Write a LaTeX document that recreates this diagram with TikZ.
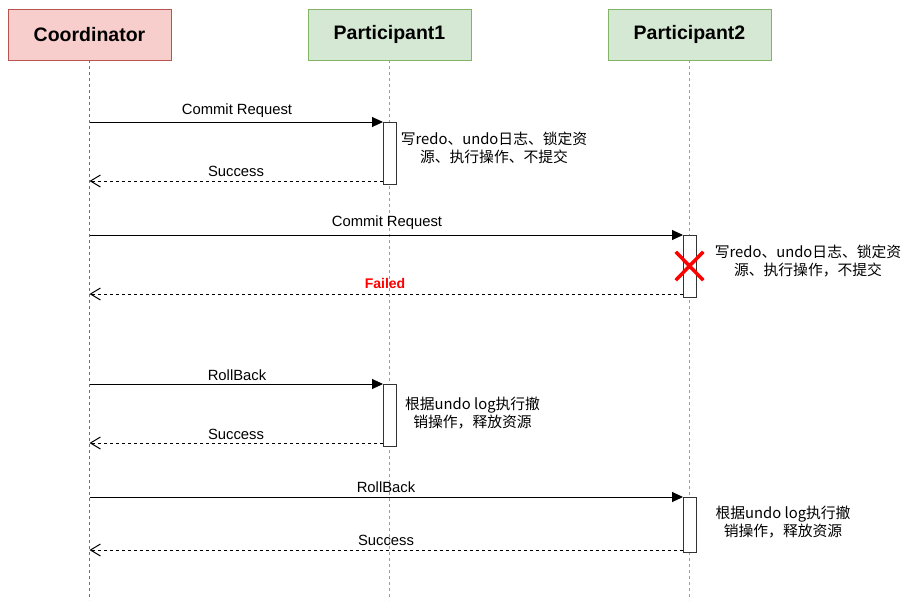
\documentclass[tikz,border=0pt]{standalone}
\usepackage{fontspec}
\setmainfont{Liberation Sans}
\newfontfamily\cjk{Noto Sans CJK SC}
\usetikzlibrary{arrows.meta,shapes.misc}
\definecolor{redfill}{HTML}{F8CECC}
\definecolor{reddraw}{HTML}{B85450}
\definecolor{greenfill}{HTML}{D5E8D4}
\definecolor{greendraw}{HTML}{82B366}
\definecolor{actdraw}{HTML}{333333}
\definecolor{failred}{HTML}{FF0000}
\begin{document}
\begin{tikzpicture}[x=1pt,y=-1pt,
  header/.style={draw, line width=1pt, minimum width=163pt, minimum height=51pt, inner sep=0pt, outer sep=0pt,
    font=\fontsize{19.5}{22}\selectfont\bfseries},
  life/.style={line width=1pt, dash pattern=on 3pt off 3pt},
  act/.style={draw=actdraw, fill=white, line width=1pt, minimum width=13pt, inner sep=0pt, outer sep=0pt},
  req/.style={line width=1pt, -{Triangle[length=11pt,width=10pt]}},
  ret/.style={line width=1pt, dash pattern=on 3pt off 3pt, -{Straight Barb[length=10pt,width=12pt,line width=1pt]}},
  lbl/.style={font=\fontsize{14.8}{17}\selectfont, inner sep=0pt},
  note/.style={font=\fontsize{14.8}{18}\selectfont\cjk, align=center, inner sep=0pt}
]
\useasboundingbox (0,0) rectangle (916,608);
\fill[white] (0,0) rectangle (916,608);

% headers
\node[header, fill=redfill, draw=reddraw] (c) at (89.5,34.5) {Coordinator};
\node[header, fill=greenfill, draw=greendraw] (p1) at (389.5,34.5) {Participant1};
\node[header, fill=greenfill, draw=greendraw] (p2) at (689.5,34.5) {Participant2};

% lifelines
\coordinate (cb) at (89.5,600);
\coordinate (p1b) at (389.5,600);
\coordinate (p2b) at (689.5,600);
\draw[life, draw=reddraw] (c.south) -- (cb);
\draw[life, draw=greendraw] (p1.south) -- (p1b);
\draw[life, draw=greendraw] (p2.south) -- (p2b);

% activation boxes
\node[act, minimum height=62pt] (a1) at (389.5,153) {};
\node[act, minimum height=62pt] (a2) at (689.5,266) {};
\node[act, minimum height=62pt] (a3) at (389.5,415) {};
\node[act, minimum height=55pt] (a4) at (689.5,524.5) {};

% coordinator lifeline points
\coordinate (s1) at (89.5,122);
\coordinate (r1) at (89.5,181);
\coordinate (s2) at (89.5,235);
\coordinate (r2) at (89.5,294);
\coordinate (s3) at (89.5,384);
\coordinate (r3) at (89.5,443);
\coordinate (s4) at (89.5,497);
\coordinate (r4) at (89.5,550);

% messages
\draw[req] (s1) -- (a1.north west);
\node[lbl] (l1) at (237,111) {Commit Request};
\draw[ret] ([yshift=3pt]a1.south west) -- (r1);
\node[lbl] (l2) at (236,171) {Success};

\draw[req] (s2) -- (a2.north west);
\node[lbl] (l3) at (387,223) {Commit Request};
\draw[ret] ([yshift=3pt]a2.south west) -- (r2);
\node[lbl, text=failred, font=\fontsize{14}{17}\selectfont\bfseries] (l4) at (385,283) {Failed};

\draw[req] (s3) -- (a3.north west);
\node[lbl] (l5) at (237,375) {RollBack};
\draw[ret] ([yshift=3pt]a3.south west) -- (r3);
\node[lbl] (l6) at (236,434) {Success};

\draw[req] (s4) -- (a4.north west);
\node[lbl] (l7) at (386,487) {RollBack};
\draw[ret] ([yshift=2pt]a4.south west) -- (r4);
\node[lbl] (l8) at (386,540) {Success};

% failure mark
\node[cross out, draw=failred, line width=3.5pt, minimum width=24pt, minimum height=25pt, inner sep=0pt] (x) at (689.5,266) {};

% notes
\node[note] (n1) at (494,148) {写redo、undo日志、锁定资\\源、执行操作、不提交};
\node[note] (n2) at (808,261) {写redo、undo日志、锁定资\\源、执行操作，不提交};
\node[note] (n3) at (472.5,413.5) {根据undo log执行撤\\销操作，释放资源};
\node[note] (n4) at (783,522) {根据undo log执行撤\\销操作，释放资源};
\end{tikzpicture}
\end{document}
